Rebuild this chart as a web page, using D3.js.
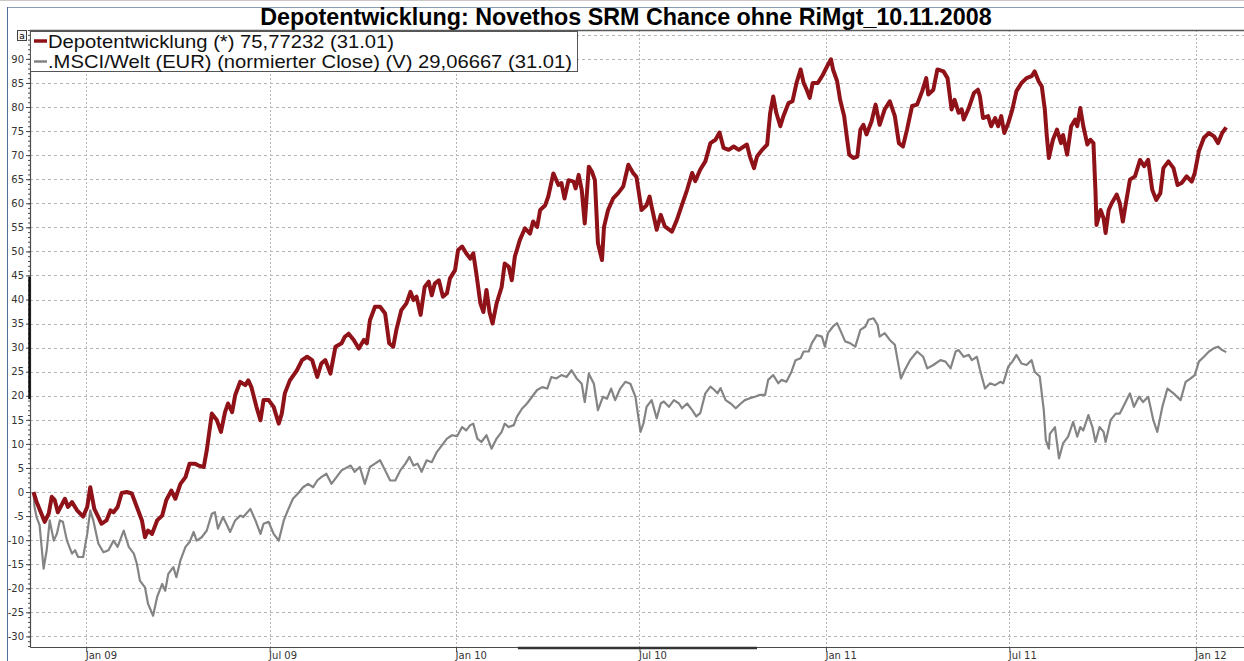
<!DOCTYPE html>
<html>
<head>
<meta charset="utf-8">
<script src="https://cdn.jsdelivr.net/npm/d3@7"></script>
<style>
body { margin: 0; background: #fff; }
svg { display: block; }
</style>
</head>
<body>
<div id="container"></div>
<script>
/* DATA */
const chartTitle = "Depotentwicklung: Novethos SRM Chance ohne RiMgt_10.11.2008";
const legendLabels = [
  "Depotentwicklung (*) 75,77232 (31.01)",
  ".MSCI/Welt (EUR) (normierter Close) (V) 29,06667 (31.01)"
];
const startDate = new Date(2008, 10, 10);
const yTicks = d3.range(-30, 91, 5);
const yGridValues = d3.range(-30, 96, 5);
const yMinorTicks = d3.range(-32, 97, 1);
const xTickDates = [
  new Date(2009, 0, 1), new Date(2009, 6, 1), new Date(2010, 0, 1),
  new Date(2010, 6, 1), new Date(2011, 0, 1), new Date(2011, 6, 1),
  new Date(2012, 0, 1)
];

// [days since 10.11.2008, value]
const depotSeries = [
  [0,0],[3,-2],[11,-6.2],[15,-4.5],[18,-1],[21,-1.7],[24,-4.2],[31,-1.4],[34,-3.1],[38,-2.1],
  [43,-3.8],[49,-5.1],[53,-3.1],[56,1],[60,-3.5],[64,-5.2],[67,-6.6],[72,-5.9],[76,-3.8],[79,-4.2],
  [83,-3.1],[87,-0.2],[92,0],[97,-0.3],[102,-3.1],[107,-5.9],[110,-9.4],[113,-8],[117,-8.7],[122,-5.9],
  [127,-4.9],[131,-1.7],[136,0.3],[140,-1.4],[145,1.7],[150,3.1],[154,5.9],[159,5.9],[163,5.5],[168,5.2],
  [171,8.7],[176,16.3],[181,14.9],[185,12.5],[189,16.6],[192,18.4],[196,16.6],[199,20.1],[204,22.9],[209,22.2],
  [212,23.2],[215,21.8],[220,17.7],[224,14.9],[227,19.1],[232,19.1],[237,17.7],[242,14.2],[245,16.3],[248,20.5],
  [253,23.2],[260,25.3],[265,27.4],[270,28.1],[275,27.4],[280,23.9],[284,26.7],[288,27.4],[293,24.6],[298,30.2],
  [304,30.9],[307,32.2],[311,32.9],[316,31.6],[321,29.8],[326,31.6],[329,30.9],[332,35.7],[337,38.5],[342,38.5],
  [347,37.1],[351,30.9],[355,30.2],[358,33.6],[363,37.8],[368,39.2],[372,41.6],[375,39.9],[378,40.6],[382,36.8],
  [386,42.6],[390,43.7],[393,40.9],[396,43.3],[400,44],[404,40.6],[408,41.3],[411,44.4],[416,46.1],[419,50.3],
  [423,51],[427,49.6],[431,48.5],[434,49.6],[437,45.4],[441,39.2],[444,37.4],[447,42],[450,37.4],[453,35],
  [457,39.2],[462,42.6],[465,47.5],[469,46.8],[472,44],[475,48.9],[480,52.4],[485,54.8],[490,53.7],[493,56.2],
  [497,55.1],[500,58.6],[505,59.6],[508,61.4],[513,66.2],[518,63.8],[521,64.2],[524,61],[528,64.8],[533,64.5],
  [535,63.1],[538,65.9],[541,62.8],[544,55.8],[548,67.6],[551,66.6],[554,64.8],[557,51.7],[561,48.2],[563,55.1],
  [567,58.6],[572,61],[577,62.1],[582,63.5],[587,68],[592,66.2],[595,65.5],[600,58.6],[605,59.6],[608,61.4],
  [610,59.3],[615,54.5],[619,57.6],[623,55.2],[630,54.1],[635,56.6],[640,59.7],[645,62.8],[650,66.3],[653,64.6],
  [658,67],[663,68.7],[668,72.5],[673,73.2],[677,74.7],[681,71.5],[686,71.1],[691,71.8],[696,71.1],[701,71.8],
  [704,72.2],[707,69.7],[711,67.3],[714,69.7],[719,71.1],[724,72.2],[727,78.8],[730,82.2],[733,78.8],[737,76],
  [740,78.1],[745,80.8],[749,81.2],[753,85],[757,87.8],[760,85],[763,83.6],[766,81.9],[769,85],[774,85],
  [779,86.7],[784,88.8],[787,89.9],[789,87.8],[793,85.4],[796,81.5],[800,78.1],[803,73.2],[805,70.1],[809,69.4],
  [813,69.7],[816,75.3],[819,76.3],[822,74.3],[827,77],[831,80.5],[835,76.3],[840,79.5],[845,81.2],[850,78.1],
  [854,72.5],[858,71.8],[862,75.3],[867,80.2],[872,80.5],[877,83.3],[881,86],[883,82.6],[888,83.6],[892,87.8],
  [898,87.4],[902,86],[906,79.5],[909,81.5],[913,78.8],[916,79.5],[918,77.4],[923,79.8],[928,82.9],[932,83.6],
  [934,82.2],[937,77.7],[942,78.1],[945,76],[949,77.7],[952,76],[955,78.1],[958,74.6],[962,76.7],[966,79.5],
  [970,83.3],[975,85],[980,86],[985,86.4],[988,87.4],[992,85.3],[995,84.3],[998,79.5],[1000,73.9],[1002,69.4],
  [1006,73.2],[1010,75.3],[1014,72.5],[1016,74.2],[1020,70.1],[1024,76],[1028,77.4],[1030,76],[1033,79.8],[1036,76],
  [1040,72.2],[1043,73.2],[1046,72.5],[1048,62.5],[1049,55.5],[1053,58.6],[1056,56.9],[1058,53.8],[1061,58.6],[1064,60],
  [1069,61.8],[1072,60],[1075,56.2],[1078,60],[1082,64.9],[1087,65.6],[1092,69],[1096,67.7],[1100,69],[1104,62.8],
  [1108,60.7],[1112,62.1],[1115,67.3],[1120,68.7],[1125,67.3],[1129,63.8],[1133,64.2],[1138,65.6],[1143,64.5],[1146,66.3],
  [1150,70.8],[1155,73.6],[1160,74.6],[1165,73.9],[1169,72.5],[1173,74.6],[1177,75.77]
];

const msciSeries = [
  [0,0],[1,-3.1],[3,-5.2],[6,-6.9],[10,-15.9],[13,-12.1],[16,-5.9],[20,-10.1],[23,-8.7],[26,-5.9],
  [29,-6.2],[33,-10.1],[38,-12.8],[41,-12.1],[44,-13.5],[49,-13.5],[53,-8.7],[56,-3.8],[59,-5.9],[64,-10.7],
  [69,-12.5],[74,-12.1],[79,-10.1],[83,-11.4],[89,-8],[94,-11.4],[99,-12.8],[102,-14.9],[105,-18.4],[110,-19.8],
  [113,-23.2],[118,-25.7],[122,-21.8],[127,-19.1],[130,-20.5],[133,-17],[138,-15.6],[141,-17.7],[145,-14.2],[150,-11.4],
  [154,-10.4],[158,-8.3],[161,-10.1],[166,-9.4],[171,-8],[176,-4.5],[179,-4.2],[182,-7.6],[187,-5.2],[191,-6.9],
  [194,-8.3],[199,-5.9],[204,-4.9],[207,-5.2],[214,-3.5],[219,-5.9],[224,-8.7],[227,-6.6],[232,-6.2],[237,-8.7],
  [242,-10.1],[247,-5.9],[251,-3.8],[256,-1.4],[261,-0.3],[266,1],[271,1.7],[276,1],[280,2.4],[284,3.1],
  [289,3.8],[294,1.7],[299,3.1],[304,4.5],[313,5.5],[317,4.2],[322,5.2],[327,1.7],[332,5.2],[337,5.9],
  [342,6.6],[347,4.5],[352,2.4],[357,2.4],[362,4.5],[367,5.9],[371,7.3],[375,5.5],[379,5.9],[383,4.2],
  [388,6.6],[393,6.2],[398,8.3],[403,9.7],[408,11.1],[413,11.8],[418,11.6],[423,13.5],[427,12.8],[431,13.9],
  [434,14.2],[438,11.1],[442,10.4],[447,11.8],[452,9],[457,11.1],[462,12.5],[465,14.2],[469,13.5],[474,13.9],
  [477,15.6],[482,17.3],[487,18.4],[492,19.8],[497,21.2],[502,21.8],[507,21.5],[511,23.9],[516,23.6],[521,24.3],
  [526,23.9],[531,25.3],[536,23.6],[541,22.5],[544,18.7],[548,24.6],[553,22.5],[557,17],[562,19.8],[566,19.4],
  [570,21.5],[574,19.1],[579,21.5],[584,22.9],[589,22.5],[594,19.8],[599,12.5],[602,14.3],[605,17.7],[610,19.1],
  [615,15.3],[619,18.4],[622,18.8],[627,17.7],[632,19.1],[637,18.4],[640,17.4],[645,18.4],[650,17],[654,15.7],
  [658,16.4],[663,20.5],[668,21.9],[672,21.2],[675,20.5],[678,21.6],[683,19.1],[688,18.4],[693,17.4],[698,18.4],
  [702,19.1],[707,19.5],[712,19.8],[717,20.2],[722,20.2],[725,23.3],[730,24.3],[735,22.6],[738,23.3],[743,22.9],
  [748,25],[752,27.4],[757,27.8],[760,29.2],[765,29.2],[768,30.9],[773,32.6],[778,32.3],[781,30.2],[784,33],
  [789,34.4],[793,35.1],[796,33.7],[801,31.3],[806,30.9],[811,30.2],[816,33.7],[821,34.4],[824,35.8],[829,36.1],
  [833,34.7],[835,32.3],[840,33],[845,31.6],[850,30.6],[853,27.1],[856,23.6],[860,25.4],[865,27.4],[872,29.2],
  [878,28.1],[882,25.7],[888,26.4],[895,27.4],[900,27.1],[905,25.7],[910,29.2],[913,29.5],[918,28.1],[923,28.5],
  [926,27.4],[931,28.1],[934,25.4],[939,21.5],[944,22.6],[949,22.2],[954,22.9],[957,22.6],[962,26.1],[966,27.1],
  [970,28.5],[975,26.7],[980,26.4],[985,27.4],[988,25],[993,24],[997,17],[999,10.8],[1002,9],[1003,12.1],
  [1008,13.5],[1012,7],[1016,10.1],[1021,11.5],[1026,14.6],[1030,11.5],[1033,13.5],[1036,12.8],[1041,16],[1045,13.5],
  [1048,10.4],[1052,13.5],[1056,12.5],[1058,10.4],[1063,15],[1068,16.3],[1072,16.3],[1077,18.4],[1082,20.5],[1086,17.7],
  [1091,19.8],[1095,18.7],[1100,19.8],[1105,15],[1109,12.5],[1114,17.7],[1119,21.5],[1125,20.5],[1132,19.1],[1137,22.9],
  [1142,23.6],[1146,24.3],[1150,27.1],[1155,28.1],[1160,29.2],[1165,29.9],[1169,30.2],[1173,29.5],[1177,29.07]
];

/* CONSTANTS */
const width = 1244, height = 661;
const plot = { left: 30, right: 1244, top: 30, bottom: 647 };
const depotColor = "#8f1219", msciColor = "#848484";
const gridColor = "#b4b4b4", axisColor = "#4a4a4a";
const smallFont = "DejaVu Sans, Verdana, sans-serif";
const mainFont = "Liberation Sans, Arial, sans-serif";

const toPoints = s => s.map(([d, v]) => ({ date: d3.timeDay.offset(startDate, d), v }));
const depot = toPoints(depotSeries);
const msci = toPoints(msciSeries);

const svg = d3.select("#container")
  .append("svg")
  .attr("width", width)
  .attr("height", height)
  .style("background", "#fff");

// SCALES (calibrated on Jan 09 / Jan 12 tick positions)
const x = d3.scaleTime()
  .domain([new Date(2009, 0, 1), new Date(2012, 0, 1)])
  .range([86.2, 1195.8]);
x.domain([x.invert(plot.left), x.invert(plot.right)]).range([plot.left, plot.right]);

const y = d3.scaleLinear()
  .domain([-32.2, 96])
  .range([plot.bottom, plot.top]);

// FRAME
svg.append("line").attr("x1", 0).attr("x2", width).attr("y1", 0.5).attr("y2", 0.5)
  .attr("stroke", "#c8c8c8");
svg.append("line").attr("x1", 7).attr("x2", width).attr("y1", 7.5).attr("y2", 7.5)
  .attr("stroke", "#8a9db5");
svg.append("line").attr("x1", 7.5).attr("x2", 7.5).attr("y1", 7).attr("y2", height)
  .attr("stroke", "#4f6f98");

// TITLE
svg.append("text")
  .attr("x", 626).attr("y", 25)
  .attr("text-anchor", "middle")
  .style("font-family", mainFont)
  .style("font-weight", "bold")
  .style("font-size", "23.3px")
  .text(chartTitle);

// GRID
svg.append("g")
  .selectAll("line")
  .data(yGridValues)
  .join("line")
  .attr("x1", plot.left).attr("x2", plot.right)
  .attr("y1", d => Math.round(y(d)) + 0.5).attr("y2", d => Math.round(y(d)) + 0.5)
  .attr("stroke", gridColor)
  .attr("stroke-dasharray", "3,3");

svg.append("g")
  .selectAll("line")
  .data(xTickDates)
  .join("line")
  .attr("x1", d => Math.round(x(d)) + 0.5).attr("x2", d => Math.round(x(d)) + 0.5)
  .attr("y1", plot.top).attr("y2", plot.bottom)
  .attr("stroke", gridColor)
  .attr("stroke-dasharray", "2,2");

// LINES
const line = d3.line()
  .x(d => x(d.date))
  .y(d => y(d.v));

svg.append("path")
  .datum(msci)
  .attr("d", line)
  .attr("fill", "none")
  .attr("stroke", msciColor)
  .attr("stroke-width", 2.2)
  .attr("stroke-linejoin", "round");

svg.append("path")
  .datum(depot)
  .attr("d", line)
  .attr("fill", "none")
  .attr("stroke", depotColor)
  .attr("stroke-width", 4)
  .attr("stroke-linejoin", "round");

// AXES
const yMinor = svg.append("g")
  .attr("transform", `translate(${plot.left},0)`)
  .call(d3.axisLeft(y).tickValues(yMinorTicks).tickSize(2).tickFormat(""));
yMinor.select(".domain").remove();
yMinor.selectAll("line").attr("stroke", axisColor);

const yAxis = svg.append("g")
  .attr("transform", `translate(${plot.left},0)`)
  .call(d3.axisLeft(y).tickValues(yTicks).tickSize(4).tickSizeOuter(0).tickPadding(2).tickFormat(d => String(d)));
yAxis.select(".domain").attr("stroke", axisColor).attr("stroke-width", 1.2);
yAxis.selectAll("line").attr("stroke", axisColor);
yAxis.selectAll("text")
  .style("font-family", smallFont)
  .style("font-size", "10px")
  .attr("fill", "#333");

const xAxis = svg.append("g")
  .attr("transform", `translate(0,${plot.bottom})`)
  .call(d3.axisBottom(x).tickValues(xTickDates).tickSize(5).tickSizeOuter(0).tickFormat(d3.timeFormat("%b %y")));
xAxis.select(".domain").attr("stroke", axisColor).attr("stroke-width", 1.2);
xAxis.selectAll("line").attr("stroke", axisColor);
xAxis.selectAll("text")
  .attr("text-anchor", "start")
  .attr("x", -1)
  .attr("y", 5)
  .style("font-family", smallFont)
  .style("font-size", "10px")
  .attr("fill", "#333");

// top border of the plot
svg.append("line")
  .attr("x1", plot.left).attr("x2", plot.right)
  .attr("y1", plot.top + 0.5).attr("y2", plot.top + 0.5)
  .attr("stroke", "#5a5a5a").attr("stroke-width", 1.5);

// scroll markers on the axes
svg.append("line")
  .attr("x1", plot.left - 0.5).attr("x2", plot.left - 0.5)
  .attr("y1", y(44.7)).attr("y2", y(19.3))
  .attr("stroke", "#111").attr("stroke-width", 2.5);
svg.append("line")
  .attr("x1", x(new Date(2010, 2, 3))).attr("x2", x(new Date(2010, 9, 25)))
  .attr("y1", plot.bottom + 1).attr("y2", plot.bottom + 1)
  .attr("stroke", "#333").attr("stroke-width", 2.5);

// "a" box at the top of the value axis
const aBox = svg.append("g").attr("transform", "translate(17,30)");
aBox.append("rect").attr("x", 0.5).attr("y", 0.5).attr("width", 9).attr("height", 10)
  .attr("fill", "#f4f4f4").attr("stroke", "#444");
aBox.append("text").attr("x", 5).attr("y", 8.5).attr("text-anchor", "middle")
  .style("font-family", smallFont).style("font-size", "9px").text("a");

// LEGEND
const legendWidths = [346, 524];
const legend = svg.append("g");
legend.append("rect")
  .attr("x", 30.5).attr("y", 31.5).attr("width", 547).attr("height", 40)
  .attr("fill", "#fff").attr("stroke", "#555");
const legendRows = legend.selectAll("g.row")
  .data(legendLabels)
  .join("g")
  .attr("class", "row")
  .attr("transform", (d, i) => `translate(0,${41 + i * 20.5})`);
legendRows.append("line")
  .attr("x1", 34).attr("x2", 47)
  .attr("stroke", (d, i) => i === 0 ? depotColor : msciColor)
  .attr("stroke-width", (d, i) => i === 0 ? 3.5 : 2.5);
legendRows.append("text")
  .attr("x", 48).attr("y", 6.5)
  .attr("textLength", (d, i) => legendWidths[i])
  .attr("lengthAdjust", "spacingAndGlyphs")
  .style("font-family", mainFont)
  .style("font-size", "18.5px")
  .attr("fill", "#111")
  .text(d => d);
</script>
</body>
</html>
